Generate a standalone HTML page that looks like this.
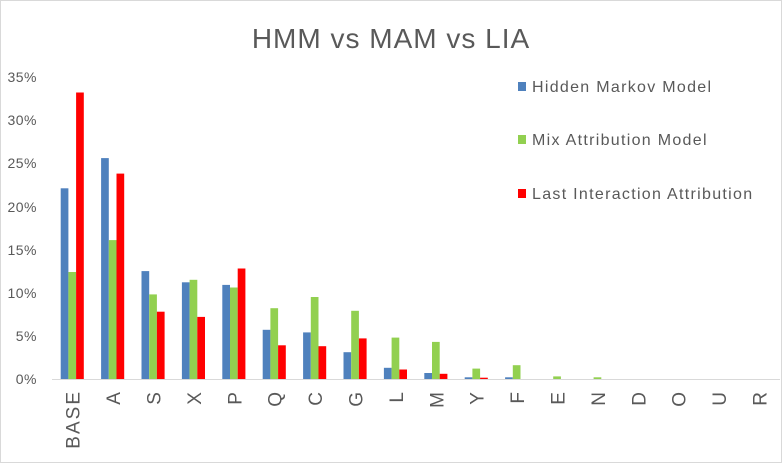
<!DOCTYPE html><html><head><style>body{margin:0;background:#fff}</style></head><body>
<svg width="782" height="463" xmlns="http://www.w3.org/2000/svg" font-family="Liberation Sans, sans-serif">
<rect x="0.5" y="0.5" width="781" height="462" fill="#fff" stroke="#d9d9d9"/>
<text x="391" y="48" text-anchor="middle" font-size="28" letter-spacing="1" fill="#595959">HMM vs MAM vs LIA</text>
<g font-size="14" fill="#595959" text-anchor="end" letter-spacing="0.5">
<text x="37" y="384">0%</text><text x="37" y="341">5%</text><text x="37" y="298">10%</text><text x="37" y="255">15%</text><text x="37" y="212">20%</text><text x="37" y="168">25%</text><text x="37" y="125">30%</text><text x="37" y="82">35%</text>
</g>
<g fill="#4f81bd">
<rect x="60.7" y="188.3" width="7.7" height="190.7"/>
<rect x="101.1" y="158.1" width="7.7" height="220.9"/>
<rect x="141.5" y="271.1" width="7.7" height="107.9"/>
<rect x="181.9" y="282.3" width="7.7" height="96.7"/>
<rect x="222.3" y="284.9" width="7.7" height="94.1"/>
<rect x="262.7" y="329.8" width="7.7" height="49.2"/>
<rect x="303.1" y="332.4" width="7.7" height="46.6"/>
<rect x="343.5" y="352.2" width="7.7" height="26.8"/>
<rect x="383.9" y="367.8" width="7.7" height="11.2"/>
<rect x="424.3" y="373" width="7.7" height="6"/>
<rect x="464.7" y="377.3" width="7.7" height="1.7"/>
<rect x="505.1" y="377.3" width="7.7" height="1.7"/>
</g>
<g fill="#92d050">
<rect x="68.4" y="272" width="7.7" height="107"/>
<rect x="108.8" y="240.1" width="7.7" height="138.9"/>
<rect x="149.2" y="294.4" width="7.7" height="84.6"/>
<rect x="189.6" y="279.8" width="7.7" height="99.2"/>
<rect x="230" y="287.5" width="7.7" height="91.5"/>
<rect x="270.4" y="308.2" width="7.7" height="70.8"/>
<rect x="310.8" y="297" width="7.7" height="82"/>
<rect x="351.2" y="310.8" width="7.7" height="68.2"/>
<rect x="391.6" y="337.6" width="7.7" height="41.4"/>
<rect x="432" y="341.9" width="7.7" height="37.1"/>
<rect x="472.4" y="368.6" width="7.7" height="10.4"/>
<rect x="512.8" y="365.2" width="7.7" height="13.8"/>
<rect x="553.2" y="376.4" width="7.7" height="2.6"/>
<rect x="593.6" y="377.3" width="7.7" height="1.7"/>
</g>
<g fill="#ff0000">
<rect x="76.1" y="92.5" width="7.7" height="286.5"/>
<rect x="116.5" y="173.6" width="7.7" height="205.4"/>
<rect x="156.9" y="311.7" width="7.7" height="67.3"/>
<rect x="197.3" y="316.9" width="7.7" height="62.1"/>
<rect x="237.7" y="268.5" width="7.7" height="110.5"/>
<rect x="278.1" y="345.3" width="7.7" height="33.7"/>
<rect x="318.5" y="346.2" width="7.7" height="32.8"/>
<rect x="358.9" y="338.4" width="7.7" height="40.6"/>
<rect x="399.3" y="369.5" width="7.7" height="9.5"/>
<rect x="439.7" y="373.8" width="7.7" height="5.2"/>
<rect x="480.1" y="377.7" width="7.7" height="1.3"/>
</g>
<line x1="52" y1="379.5" x2="780" y2="379.5" stroke="#d9d9d9"/>
<g font-size="16" fill="#595959" letter-spacing="1.3">
<rect x="518" y="82" width="8" height="9" fill="#4f81bd"/><text x="532" y="92">Hidden Markov Model</text>
<rect x="518" y="135" width="8" height="9" fill="#92d050"/><text x="532" y="145">Mix Attribution Model</text>
<rect x="518" y="189" width="8" height="9" fill="#ff0000"/><text x="532" y="199">Last Interaction Attribution</text>
</g>
<g font-size="19" fill="#595959" text-anchor="end" letter-spacing="2">
<text transform="translate(79.7,390) rotate(-90)">BASE</text>
<text transform="translate(120.1,390) rotate(-90)">A</text>
<text transform="translate(160.5,390) rotate(-90)">S</text>
<text transform="translate(200.9,390) rotate(-90)">X</text>
<text transform="translate(241.3,390) rotate(-90)">P</text>
<text transform="translate(281.7,390) rotate(-90)">Q</text>
<text transform="translate(322.1,390) rotate(-90)">C</text>
<text transform="translate(362.5,390) rotate(-90)">G</text>
<text transform="translate(402.9,390) rotate(-90)">L</text>
<text transform="translate(443.3,390) rotate(-90)">M</text>
<text transform="translate(483.7,390) rotate(-90)">Y</text>
<text transform="translate(524.1,390) rotate(-90)">F</text>
<text transform="translate(564.5,390) rotate(-90)">E</text>
<text transform="translate(604.9,390) rotate(-90)">N</text>
<text transform="translate(645.3,390) rotate(-90)">D</text>
<text transform="translate(685.7,390) rotate(-90)">O</text>
<text transform="translate(726.1,390) rotate(-90)">U</text>
<text transform="translate(766.5,390) rotate(-90)">R</text>
</g>
</svg></body></html>
